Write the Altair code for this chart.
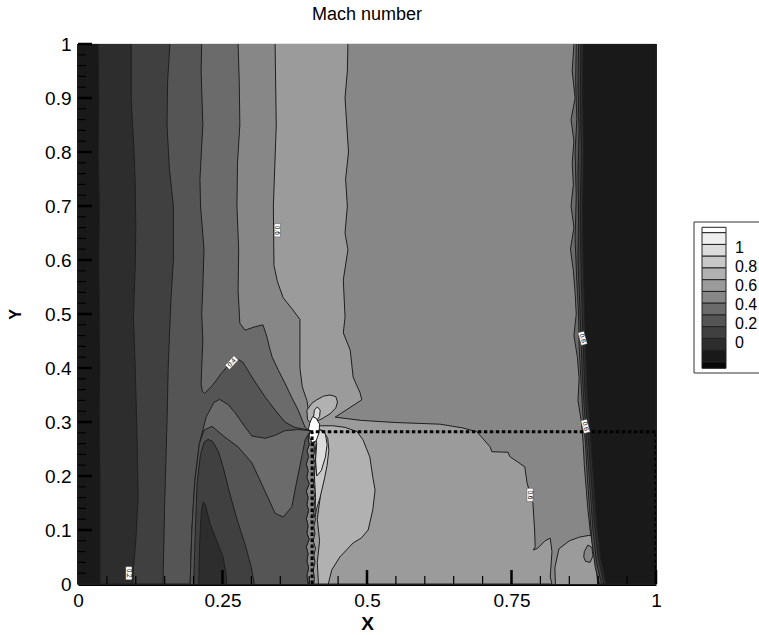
import altair as alt
import pandas as pd

# ---------------- contour boundaries (x, y) ----------------
L0_LINE = [(.035, 1), (.036, .9), (.035, .8), (.037, .7), (.036, .6), (.037, .5), (.038, .4),
           (.037, .3), (.038, .2), (.038, .1), (.038, 0)]
L1_LINE = [(.092, 1), (.092, .9), (.097, .8), (.099, .74), (.1, .66), (.099, .59), (.097, .53),
           (.096, .49), (.099, .4), (.102, .28), (.104, .16), (.1, .08), (.096, .03), (.095, 0)]
L2_LINE = [(.159, 1), (.155, .93), (.154, .85), (.158, .77), (.165, .7), (.165, .6), (.161, .53),
           (.159, .48), (.156, .4), (.154, .3), (.15, .15), (.147, 0)]
A_LINE = [(.214, 1), (.213, .95), (.216, .85), (.211, .75), (.212, .7), (.218, .62), (.216, .55),
          (.214, .5), (.216, .45), (.214, .4), (.213, .37), (.215, .357), (.219, .353), (.232, .367),
          (.248, .39), (.263, .409), (.275, .417), (.285, .411), (.293, .397), (.301, .383),
          (.312, .365), (.324, .346), (.341, .322), (.358, .3), (.375, .29), (.39, .287), (.403, .284)]
F_LINE = [(.403, .284), (.38, .286), (.358, .284), (.34, .275), (.324, .27), (.301, .274),
          (.288, .292), (.272, .317), (.26, .332), (.245, .342), (.235, .336), (.222, .31)]
ULEFT_LINE = [(.222, .31), (.21, .26), (.202, .19), (.197, .1), (.194, 0)]
UBOT_LINE = [(.218, .285), (.232, .292), (.254, .272), (.277, .254), (.301, .224), (.32, .18),
             (.341, .131), (.355, .124), (.37, .143), (.379, .193), (.388, .24), (.393, .267),
             (.402, .283)]
B_LINE = [(.277, 1), (.279, .93), (.28, .85), (.276, .78), (.275, .7), (.278, .62), (.277, .544),
          (.28, .483), (.289, .47), (.305, .476), (.32, .48), (.327, .457), (.332, .435),
          (.336, .42), (.347, .395), (.358, .372), (.37, .345), (.381, .322), (.393, .29), (.402, .283)]
JA_LINE = [(.402, .283), (.398, .27), (.4, .258), (.396, .246), (.399, .236), (.395, .222),
           (.398, .21), (.396, .197), (.4, .186), (.395, .172), (.398, .16), (.396, .147),
           (.399, .136), (.395, .121), (.398, .108), (.396, .094), (.4, .083), (.395, .069),
           (.398, .056), (.396, .042), (.399, .03), (.396, .015), (.398, 0)]
C_LINE = [(.341, 1), (.343, .85), (.338, .7), (.339, .59), (.345, .56), (.355, .53), (.37, .51),
          (.384, .49), (.384, .465), (.384, .4), (.388, .365), (.396, .34), (.402, .3), (.405, .285)]
JB_LINE = [(.405, .285), (.409, .272), (.407, .26), (.41, .248), (.407, .235), (.411, .222),
           (.408, .21), (.41, .197), (.407, .185), (.411, .172), (.408, .158), (.41, .145),
           (.407, .132), (.411, .12), (.408, .107), (.41, .093), (.407, .08), (.411, .066),
           (.408, .053), (.41, .04), (.407, .026), (.409, .012), (.408, 0)]
D_LINE = [(.467, 1), (.466, .95), (.462, .9), (.465, .85), (.468, .8), (.463, .75), (.466, .7),
          (.462, .65), (.467, .619), (.459, .563), (.462, .494), (.459, .465), (.471, .433),
          (.476, .383), (.488, .354), (.491, .341), (.445, .309), (.49, .303), (.55, .299),
          (.626, .296), (.666, .289), (.69, .282), (.713, .254), (.716, .245), (.744, .244),
          (.747, .236), (.773, .217), (.777, .187), (.782, .168), (.787, .15), (.79, .1),
          (.791, .069), (.788, .063), (.795, .066), (.808, .08), (.817, .085), (.82, .06),
          (.817, .013), (.82, 0)]
PATCH_LINE = [(.826, 0), (.825, .03), (.832, .065), (.85, .08), (.868, .087), (.884, .09),
              (.95, .09), (.95, 0)]
ISLAND_LINE = [(.876, .06), (.882, .072), (.889, .068), (.891, .052), (.886, .04), (.878, .042),
               (.875, .05), (.876, .06)]
BULB_LINE = [(.396, .322), (.405, .335), (.413, .341), (.425, .348), (.436, .35), (.446, .347),
             (.449, .337), (.446, .326), (.436, .315), (.422, .306), (.41, .3), (.402, .298),
             (.397, .305), (.396, .322)]
TINY_LINE = [(.407, .305), (.409, .322), (.414, .328), (.419, .322), (.418, .31), (.413, .303),
             (.407, .305)]
W7_LINE = [(.41, .29), (.42, .293), (.441, .293), (.462, .29), (.483, .282), (.493, .267),
           (.505, .235), (.51, .198), (.514, .174), (.51, .137), (.502, .1), (.49, .085),
           (.476, .076), (.453, .05), (.439, .026), (.433, 0), (.416, 0), (.414, .04), (.418, .08),
           (.414, .12), (.419, .16), (.415, .2), (.418, .24), (.413, .27), (.41, .29)]
W8_LINE = [(.41, .288), (.424, .284), (.432, .27), (.434, .248), (.431, .22), (.427, .198),
           (.419, .161), (.413, .14), (.41, .124), (.411, .16), (.409, .2), (.412, .24),
           (.409, .27), (.41, .288)]
W9_LINE = [(.41, .285), (.419, .285), (.428, .278), (.431, .258), (.428, .235), (.421, .21),
           (.413, .2), (.411, .23), (.413, .26), (.41, .285)]
WHITE_LINE = [(.401, .298), (.406, .31), (.412, .307), (.418, .296), (.417, .28), (.412, .265),
              (.405, .262), (.4, .272), (.399, .288), (.401, .298)]
TMID_LINE = [(.2, 0), (.203, .1), (.206, .187), (.212, .24), (.218, .262), (.225, .268),
             (.233, .264), (.243, .245), (.251, .217), (.262, .17), (.275, .12), (.29, .07),
             (.3, .03), (.305, 0)]
TIN_LINE = [(.209, 0), (.21, .06), (.212, .11), (.214, .14), (.217, .152), (.221, .145),
            (.228, .113), (.24, .08), (.251, .05), (.256, .02), (.257, 0)]
SHA_LINE = [(.858, 1), (.855, .95), (.86, .9), (.853, .86), (.858, .82), (.855, .78), (.857, .74),
            (.853, .7), (.858, .66), (.852, .62), (.857, .58), (.86, .54), (.862, .5), (.858, .46),
            (.864, .42), (.867, .38), (.865, .34), (.871, .3), (.874, .26), (.876, .22), (.879, .18),
            (.882, .14), (.886, .1), (.892, .06), (.897, .03), (.899, 0)]
SHB_LINE = [(.862, 1), (.861, .93), (.863, .86), (.86, .8), (.862, .72), (.86, .64), (.863, .56),
            (.866, .5), (.867, .44), (.87, .38), (.873, .32), (.878, .26), (.881, .2), (.885, .14),
            (.889, .08), (.895, .03), (.902, 0)]
SHC_LINE = [(.866, 1), (.865, .92), (.867, .84), (.865, .76), (.866, .68), (.865, .6), (.868, .52),
            (.87, .46), (.872, .4), (.875, .34), (.879, .28), (.883, .22), (.887, .16), (.891, .1),
            (.897, .04), (.906, 0)]
SHD_LINE = [(.87, 1), (.869, .9), (.871, .8), (.869, .7), (.87, .6), (.872, .52), (.874, .44),
            (.877, .36), (.881, .3), (.885, .24), (.889, .18), (.893, .12), (.9, .05), (.91, 0)]
SHE_LINE = [(.874, 1), (.873, .9), (.875, .8), (.873, .7), (.874, .6), (.876, .52), (.878, .44),
            (.881, .36), (.885, .3), (.889, .24), (.893, .18), (.897, .12), (.904, .05), (.914, 0)]
DOT_LINE = [(.405, 0), (.405, .282), (1, .282), (1, 0)]

# contour labels
LBL_X = [0.345, 0.266, 0.088, 0.782, 0.873, 0.878]
LBL_Y = [0.655, 0.410, 0.020, 0.165, 0.455, 0.292]
LBL_T = ["0.6", "0.4", "0.2", "0.6", "0.6", "0.6"]
LBL_A = [90, 313, 90, 90, 75, 75]

# axis ticks
X_LABELS = [0, 0.25, 0.5, 0.75, 1]
Y_LABELS = [0, 0.1, 0.2, 0.3, 0.4, 0.5, 0.6, 0.7, 0.8, 0.9, 1]
X_MAJOR = [0.25, 0.5, 0.75, 1.0]
X_MINOR = [0.05, 0.1, 0.15, 0.2, 0.3, 0.35, 0.4, 0.45, 0.55, 0.6, 0.65, 0.7, 0.8, 0.85, 0.9, 0.95]
Y_MAJOR = [0.1, 0.2, 0.3, 0.4, 0.5, 0.6, 0.7, 0.8, 0.9, 1.0]
Y_MINOR = [0.02, 0.04, 0.06, 0.08, 0.12, 0.14, 0.16, 0.18, 0.22, 0.24, 0.26, 0.28, 0.32, 0.34,
           0.36, 0.38, 0.42, 0.44, 0.46, 0.48, 0.52, 0.54, 0.56, 0.58, 0.62, 0.64, 0.66, 0.68,
           0.72, 0.74, 0.76, 0.78, 0.82, 0.84, 0.86, 0.88, 0.92, 0.94, 0.96, 0.98]

# legend
LEG_LABELS = ["1", "0.8", "0.6", "0.4", "0.2", "0"]
LEG_VALUES = [1.0, 0.8, 0.6, 0.4, 0.2, 0.0]

TITLE = "Mach number"

# grey levels (black -> white), one per contour band
LVL_COLORS = ['#080808', '#191919', '#2d2d2d', '#404040', '#555555', '#6b6b6b', '#878787',
              '#9b9b9b', '#b1b1b1', '#c8c8c8', '#dcdcdc', '#eeeeee', '#ffffff']
LINE_COLOR = '#1e1e1e'
FONT = 'Liberation Sans'

# ---------------- layout ----------------
PL, PT, PW, PH = 78, 44, 578, 540
XS = alt.Scale(domain=[0, 1], nice=False, zero=False)
YS = alt.Scale(domain=[0, 1], nice=False, zero=False)
LABEL_EXPR = "format(datum.value, '.2~f')"

AX_X = alt.Axis(values=X_LABELS, labelExpr=LABEL_EXPR, ticks=False, grid=False,
                domainColor='black', domainWidth=3, labelFont=FONT, labelFontSize=19,
                labelColor='black', labelPadding=7, labelFlush=False, labelOverlap=False,
                title='X', titleFont=FONT, titleFontSize=19, titleFontWeight='bold',
                titleColor='black', titleY=45, titleBaseline='alphabetic')
AX_Y = alt.Axis(values=Y_LABELS, labelExpr=LABEL_EXPR, ticks=False, grid=False,
                domainColor='black', domainWidth=3, labelFont=FONT, labelFontSize=19,
                labelColor='black', labelPadding=7, labelFlush=False, labelOverlap=False,
                title='Y', titleFont=FONT, titleFontSize=16, titleFontWeight='bold',
                titleColor='black', titleAngle=270, titleX=-63, titleY=270,
                titleAlign='center', titleBaseline='middle')


def X(field):
    return alt.X(field, scale=XS, axis=AX_X)


def Y(field):
    return alt.Y(field, scale=YS, axis=AX_Y)


def fx(px):
    return (px - PL) / PW


def fy(py):
    return (PT + PH - py) / PH


def frame(pts):
    return pd.DataFrame({'x': [p[0] for p in pts], 'y': [p[1] for p in pts],
                         'i': list(range(len(pts)))})


def enc(ch):
    return ch.encode(x=X('x:Q'), y=Y('y:Q'), order=alt.Order('i:Q'))


def region(pts, lvl, stroke=True):
    return enc(alt.Chart(frame(pts)).mark_line(
        fill=LVL_COLORS[lvl], stroke=LINE_COLOR if stroke else LVL_COLORS[lvl],
        strokeWidth=1.0 if stroke else 0.5, strokeJoin='round'))


def left_of(line):
    return list(line) + [(0, 0), (0, 1)]


def right_of(line):
    return list(line) + [(1, 0), (1, 1)]


layers = [region([(0, 0), (1, 0), (1, 1), (0, 1)], 6, stroke=False)]
layers.append(region(C_LINE + JB_LINE + list(reversed(D_LINE)), 7))
layers.append(region(PATCH_LINE, 7))
layers.append(region(ISLAND_LINE, 6))
layers.append(region(BULB_LINE, 8))
layers.append(region(TINY_LINE, 10))
layers.append(region(W7_LINE, 8))
layers.append(region(W8_LINE, 9))
layers.append(region(W9_LINE, 10))
layers.append(region(WHITE_LINE, 12))
layers.append(region(left_of(B_LINE + JA_LINE[1:]), 5))
layers.append(region(left_of(A_LINE + F_LINE[1:] + ULEFT_LINE[1:]), 4))
layers.append(region(list(reversed(ULEFT_LINE))[:4] + UBOT_LINE + JA_LINE[1:], 4))
layers.append(region(TMID_LINE, 3))
layers.append(region(TIN_LINE, 2))
layers.append(region(left_of(L2_LINE), 3))
layers.append(region(left_of(L1_LINE), 2))
layers.append(region(left_of(L0_LINE), 1))
layers.append(region(right_of(SHA_LINE), 5))
layers.append(region(right_of(SHB_LINE), 4))
layers.append(region(right_of(SHC_LINE), 3))
layers.append(region(right_of(SHD_LINE), 2))
layers.append(region(right_of(SHE_LINE), 1))

# dotted rectangle
layers.append(enc(alt.Chart(frame(DOT_LINE)).mark_line(
    color='black', strokeWidth=3, strokeDash=[3.5, 2.5], clip=True)))

# contour labels
lbl = pd.DataFrame({'x': LBL_X, 'y': LBL_Y, 't': LBL_T, 'a': LBL_A})
box_path = 'M-1.7,-0.8L1.7,-0.8L1.7,0.8L-1.7,0.8Z'
layers.append(alt.Chart(lbl).mark_point(shape=box_path, filled=True, fill='white', size=60,
                                         stroke='#333', strokeWidth=0.4, opacity=1).encode(
    x=X('x:Q'), y=Y('y:Q'), angle=alt.Angle('a:Q', scale=None)))
layers.append(alt.Chart(lbl).mark_text(font=FONT, fontSize=6.5, color='black').encode(
    x=X('x:Q'), y=Y('y:Q'), text='t:N', angle=alt.Angle('a:Q', scale=None)))


# inward ticks
def ticks_x(vals, length_px, width):
    df = pd.DataFrame({'x': vals, 'y0': [0.0] * len(vals), 'y1': [length_px / PH] * len(vals)})
    return alt.Chart(df).mark_rule(color='black', strokeWidth=width).encode(
        x=X('x:Q'), y=Y('y0:Q'), y2='y1:Q')


def ticks_y(vals, length_px, width):
    df = pd.DataFrame({'y': vals, 'x0': [0.0] * len(vals), 'x1': [length_px / PW] * len(vals)})
    return alt.Chart(df).mark_rule(color='black', strokeWidth=width).encode(
        y=Y('y:Q'), x=X('x0:Q'), x2='x1:Q')


layers += [ticks_x(X_MAJOR, 14, 2.5), ticks_x(X_MINOR, 8, 1.2),
           ticks_y(Y_MAJOR, 14, 2.5), ticks_y(Y_MINOR, 8, 1.2)]

# legend (drawn in the frame's coordinates, right of the plot)
box = pd.DataFrame({'x': [fx(694)], 'x2': [fx(790)], 'y': [fy(373)], 'y2': [fy(222)]})
layers.append(alt.Chart(box).mark_rect(fill='white', stroke='#333', strokeWidth=1).encode(
    x=X('x:Q'), x2='x2:Q', y=Y('y:Q'), y2='y2:Q'))

edges_px = [227.3, 232.7] + [232.7 + 11.75 * k for k in range(1, 12)] + [368.3]
sw = pd.DataFrame({
    'x': [fx(702)] * 13, 'x2': [fx(726)] * 13,
    'y': [fy(edges_px[k + 1]) for k in range(13)], 'y2': [fy(edges_px[k]) for k in range(13)],
    'lvl': list(range(12, -1, -1))})
layers.append(alt.Chart(sw).mark_rect(stroke='#222', strokeWidth=1).encode(
    x=X('x:Q'), x2='x2:Q', y=Y('y:Q'), y2='y2:Q',
    fill=alt.Fill('lvl:O', scale=alt.Scale(domain=list(range(13)), range=LVL_COLORS),
                  legend=None)))

leg_txt = pd.DataFrame({'x': [fx(735)] * 6, 'y': [fy(343 - 95 * v) for v in LEG_VALUES],
                        't': LEG_LABELS})
layers.append(alt.Chart(leg_txt).mark_text(font=FONT, fontSize=16, color='black', align='left',
                                           baseline='middle').encode(
    x=X('x:Q'), y=Y('y:Q'), text='t:N'))

# chart title, centred over the plot
ttl = pd.DataFrame({'x': [0.5], 'y': [fy(20)], 't': [TITLE]})
layers.append(alt.Chart(ttl).mark_text(font=FONT, fontSize=18, color='black', align='center',
                                       baseline='alphabetic').encode(
    x=X('x:Q'), y=Y('y:Q'), text='t:N'))

chart = alt.layer(*layers).properties(
    width=PW, height=PH,
    padding={'left': PL, 'top': PT, 'right': 759 - PL - PW, 'bottom': 635 - PT - PH},
    autosize=alt.AutoSizeParams(type='none')
).configure_view(stroke=None)

chart.save("out.html", embed_options={"renderer": "svg", "actions": False})
